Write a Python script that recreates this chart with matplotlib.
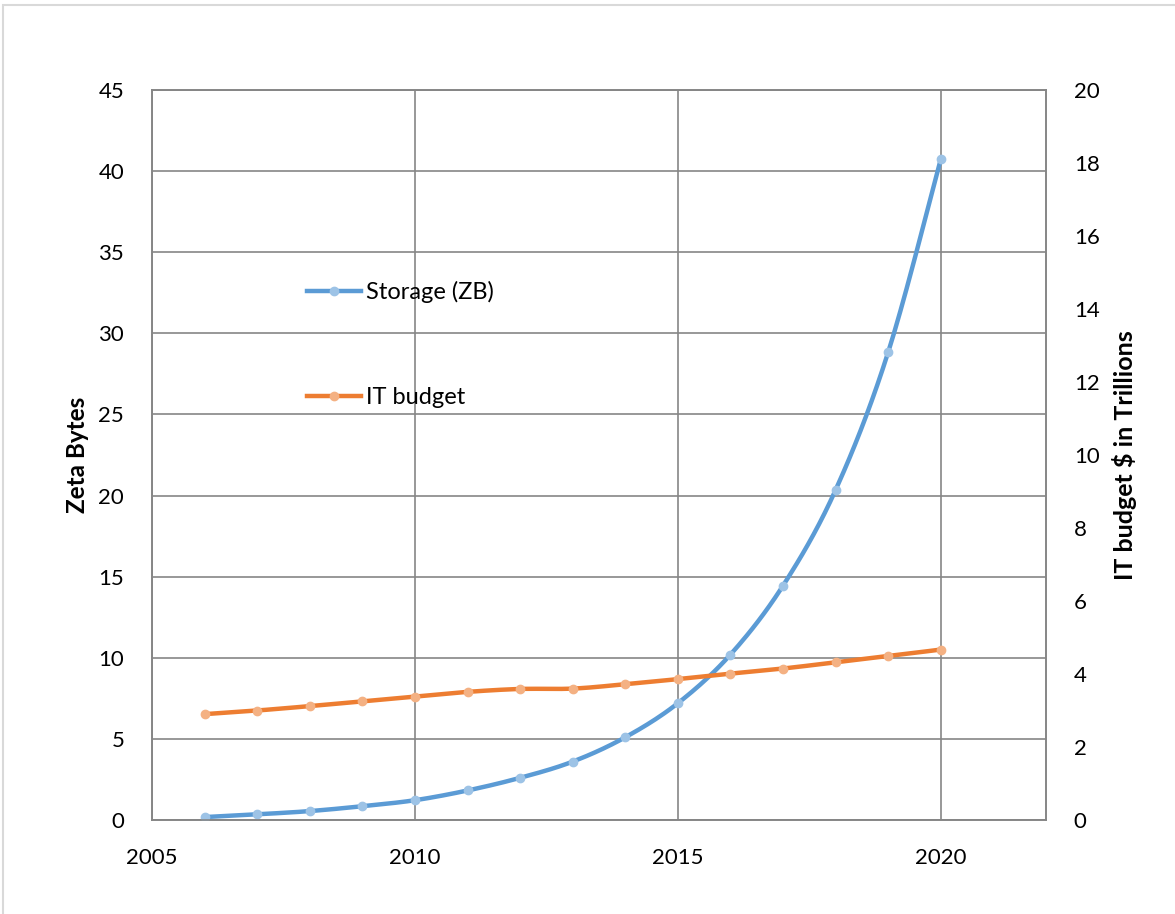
import numpy as np
import matplotlib.pyplot as plt
from matplotlib.patches import Rectangle

years = [2006, 2007, 2008, 2009, 2010, 2011, 2012, 2013, 2014, 2015, 2016, 2017, 2018, 2019, 2020]
storage_zb = [0.18, 0.35, 0.55, 0.85, 1.22, 1.82, 2.6, 3.6, 5.1, 7.2, 10.2, 14.45, 20.35, 28.85, 40.75]
it_budget = [2.9, 3.0, 3.12, 3.25, 3.38, 3.51, 3.59, 3.6, 3.72, 3.86, 4.01, 4.15, 4.32, 4.49, 4.67]

x_ticks = [2005, 2010, 2015, 2020]
left_ticks = list(range(0, 46, 5))
right_ticks = list(range(0, 21, 2))

plt.rcParams['font.family'] = ['Lato', 'DejaVu Sans']


def smooth(x, y, n=20):
    # Excel style smoothed line: cubic bezier through the points (Catmull-Rom tangents)
    x = np.asarray(x, float)
    y = np.asarray(y, float)
    px = np.concatenate([[x[0]], x, [x[-1]]])
    py = np.concatenate([[y[0]], y, [y[-1]]])
    t = np.linspace(0, 1, n)[:, None]
    xs, ys = [], []
    for i in range(1, len(px) - 2):
        p0 = np.array([px[i], py[i]])
        p3 = np.array([px[i + 1], py[i + 1]])
        c1 = p0 + (np.array([px[i + 1], py[i + 1]]) - np.array([px[i - 1], py[i - 1]])) / 6
        c2 = p3 - (np.array([px[i + 2], py[i + 2]]) - np.array([px[i], py[i]])) / 6
        b = (1 - t) ** 3 * p0 + 3 * (1 - t) ** 2 * t * c1 + 3 * (1 - t) * t ** 2 * c2 + t ** 3 * p3
        xs.append(b[:, 0])
        ys.append(b[:, 1])
    return np.concatenate(xs), np.concatenate(ys)


fig = plt.figure(figsize=(11.75, 9.14), dpi=100)
fig.patches.append(Rectangle((3 / 1175, -0.1), 1.2, 1 - 5 / 914 + 0.1, transform=fig.transFigure,
                             fill=False, edgecolor='#d9d9d9', linewidth=1.5))
ax = fig.add_axes([152 / 1175, 94 / 914, 894 / 1175, 730 / 914])
ax2 = ax.twinx()

grid_c = '#868686'
ax.set_xlim(2005, 2022)
ax.set_ylim(0, 45)
ax2.set_ylim(0, 20)
ax.set_xticks(x_ticks)
ax.set_yticks(left_ticks)
ax2.set_yticks(right_ticks)
ax.grid(True, color=grid_c, linewidth=1.2)
ax.set_axisbelow(True)
for a in (ax, ax2):
    for s in a.spines.values():
        s.set_color(grid_c)
        s.set_linewidth(1.2)
    a.tick_params(length=0, labelsize=16, pad=20)
ax.tick_params(axis='x', pad=20)

blue, blue_m = '#5b9bd5', '#9dc3e6'
orange, orange_m = '#ed7d31', '#f4b183'

sx, sy = smooth(years, storage_zb)
ax.plot(sx, sy, color=blue, linewidth=3.2, zorder=3)
ax.plot(years, storage_zb, 'o', color=blue_m, markersize=6, zorder=4)
bx, by = smooth(years, it_budget)
ax2.plot(bx, by, color=orange, linewidth=3.2, zorder=3)
ax2.plot(years, it_budget, 'o', color=orange_m, markersize=6, zorder=4)

ax.set_ylabel('Zeta Bytes', fontsize=17.5, fontweight='bold', labelpad=7)
ax2.set_ylabel('IT budget $ in Trillions', fontsize=18, fontweight='bold', labelpad=9)

h1 = plt.Line2D([], [], color=blue, linewidth=3.2, marker='o', markersize=6,
                markerfacecolor=blue_m, markeredgecolor=blue_m)
h2 = plt.Line2D([], [], color=orange, linewidth=3.2, marker='o', markersize=6,
                markerfacecolor=orange_m, markeredgecolor=orange_m)
ax2.legend([h1, h2], ['Storage (ZB)', 'IT budget'], loc='upper left',
           bbox_to_anchor=(307 / 1175, 1 - 281 / 914), bbox_transform=fig.transFigure,
           frameon=False, fontsize=17, handlelength=2.3, handletextpad=0.2,
           labelspacing=3.55, borderpad=0, borderaxespad=0)

fig.savefig('out.png', dpi=100)
